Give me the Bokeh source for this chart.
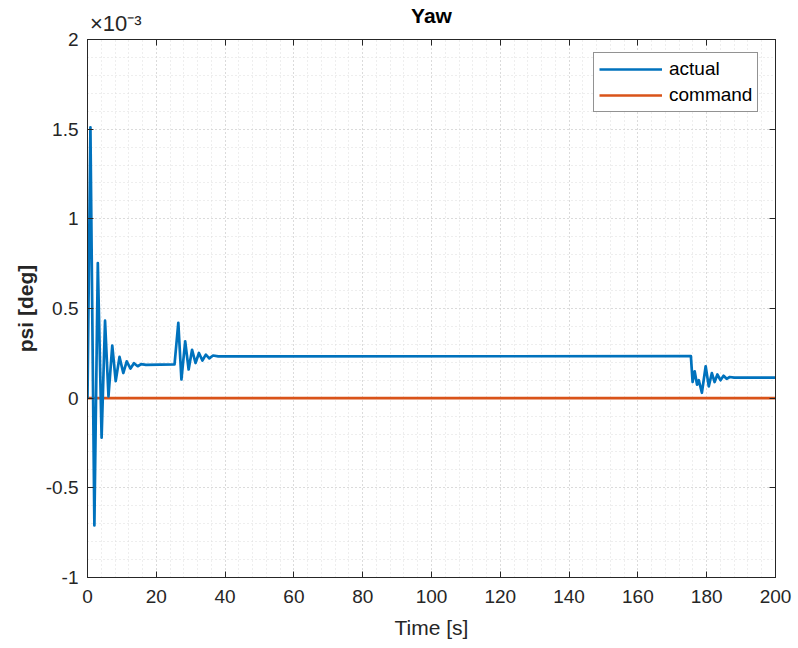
from bokeh.plotting import figure
from bokeh.models import (FixedTicker, LinearAxis, Legend, LegendItem,
                          CustomJSTickFormatter, Range1d)
from bokeh.embed import file_html
from bokeh.resources import INLINE

# ---------------- data (psi in units of 1e-3 deg) ----------------
time_actual = [0, 0.85, 2.0, 3.0, 4.1, 5.1, 6.1, 7.2, 8.2, 9.3, 10.4, 11.4, 12.5,
               13.5, 14.6, 15.6, 17.0, 25.3,
               26.4, 27.3, 28.4, 29.4, 30.4, 31.4, 32.4, 33.4, 34.4, 35.4, 36.5,
               38.0, 175.4,
               175.9, 176.5, 177.2, 177.7, 178.6, 179.7, 180.6, 181.5, 182.3,
               183.1, 184.0, 184.9, 185.8, 186.7, 188.0, 200.0]
psi_actual = [0, 1.51, -0.71, 0.753, -0.22, 0.432, 0.01, 0.293, 0.095, 0.23, 0.14,
              0.205, 0.165, 0.195, 0.178, 0.19, 0.186, 0.188,
              0.42, 0.104, 0.317, 0.16, 0.27, 0.196, 0.252, 0.21, 0.243, 0.222,
              0.238, 0.233, 0.234,
              0.09, 0.15, 0.075, 0.10, 0.03, 0.178, 0.066, 0.14, 0.09, 0.132,
              0.10, 0.125, 0.108, 0.118, 0.115, 0.115]
time_command = [0, 200]
psi_command = [0, 0]

x_ticks = [0, 20, 40, 60, 80, 100, 120, 140, 160, 180, 200]
x_minor = list(range(0, 201, 4))
y_ticks = [-1, -0.5, 0, 0.5, 1, 1.5, 2]
y_minor = [round(-1 + 0.1 * i, 1) for i in range(31)]

series_labels = ["actual", "command"]
title_text = "Yaw"
x_label = "Time [s]"
y_label = "psi [deg]"
exp_text = "\u00d710\u207b\u00b3"
exp_anchor = 8.2

BLUE = "#0072BD"
ORANGE = "#D95319"
AX = "#262626"
FONT = "Liberation Sans"

p = figure(width=798, height=648, output_backend="svg", toolbar_location=None,
           title=None,
           x_range=Range1d(0, 200), y_range=Range1d(-1, 2),
           min_border_left=87, min_border_right=23, min_border_top=38,
           min_border_bottom=71, background_fill_color="white",
           border_fill_color="white")

p.outline_line_color = AX
p.outline_line_width = 1

xt = FixedTicker(ticks=x_ticks, minor_ticks=x_minor)
yt = FixedTicker(ticks=y_ticks, minor_ticks=y_minor)
yfmt = CustomJSTickFormatter(code="return String(Math.round(tick*10)/10);")
blank = CustomJSTickFormatter(code="return '';")

def style_axis(ax, show_labels=True):
    ax.major_tick_in = 6
    ax.major_tick_out = 0
    ax.minor_tick_in = 0
    ax.minor_tick_out = 0
    ax.axis_line_color = AX
    ax.major_tick_line_color = AX
    ax.major_label_text_font = FONT
    ax.major_label_text_font_size = "19px"
    ax.major_label_text_color = AX
    ax.axis_label_text_font = FONT
    ax.axis_label_text_font_size = "21px"
    ax.axis_label_text_color = AX
    if not show_labels:
        ax.formatter = blank
        ax.major_label_standoff = 0

p.xaxis.ticker = xt
p.yaxis.ticker = yt
p.yaxis.formatter = yfmt
for ax in p.xaxis + p.yaxis:
    style_axis(ax)
p.xaxis.axis_label = x_label
p.xaxis.major_label_standoff = 12
p.xaxis.axis_label_standoff = 10
p.xaxis.axis_label_text_font_style = "normal"
p.yaxis.axis_label = y_label
p.yaxis.axis_label_text_font_style = "bold"
p.yaxis.major_label_standoff = 9
p.yaxis.axis_label_standoff = 6

right_ax = LinearAxis(ticker=yt)
style_axis(right_ax, show_labels=False)
p.add_layout(right_ax, "right")
top_ax = LinearAxis(ticker=xt)
style_axis(top_ax, show_labels=False)
p.add_layout(top_ax, "above")

# exponent marker and title carried by an extra top axis (no line, no ticks)
exp_ax = LinearAxis(ticker=FixedTicker(ticks=[exp_anchor], minor_ticks=[]),
                    major_label_overrides={exp_anchor: exp_text})
exp_ax.axis_line_color = None
exp_ax.major_tick_in = 0
exp_ax.major_tick_out = 0
exp_ax.minor_tick_in = 0
exp_ax.minor_tick_out = 0
exp_ax.major_label_text_font = FONT
exp_ax.major_label_text_font_size = "22px"
exp_ax.major_label_text_color = AX
exp_ax.major_label_standoff = 4
exp_ax.axis_label = title_text
exp_ax.axis_label_text_font = FONT
exp_ax.axis_label_text_font_size = "21px"
exp_ax.axis_label_text_font_style = "bold"
exp_ax.axis_label_text_color = "black"
exp_ax.axis_label_standoff = -19
p.add_layout(exp_ax, "above")

for g in (p.xgrid, p.ygrid):
    g.grid_line_color = "#c8c8c8"
    g.grid_line_dash = "1 3"
    g.grid_line_width = 1
    g.minor_grid_line_color = "#dcdcdc"
    g.minor_grid_line_dash = "1 3"
    g.minor_grid_line_width = 1

r_cmd = p.line(time_command, psi_command, line_color=ORANGE, line_width=2.7)
r_act = p.line(time_actual, psi_actual, line_color=BLUE, line_width=2.7,
               line_join="round")

legend = Legend(items=[LegendItem(label=series_labels[0], renderers=[r_act]),
                       LegendItem(label=series_labels[1], renderers=[r_cmd])],
                location=(506, 465))
legend.label_text_font = FONT
legend.label_text_font_size = "19px"
legend.label_text_color = "black"
legend.glyph_width = 63
legend.glyph_height = 20
legend.label_height = 20
legend.label_standoff = 7
legend.spacing = 4
legend.padding = 5
legend.margin = 0
legend.border_line_color = AX
legend.border_line_width = 1
legend.background_fill_color = "white"
legend.background_fill_alpha = 1
p.add_layout(legend, "center")

open("out.html", "w").write(file_html(p, INLINE))
